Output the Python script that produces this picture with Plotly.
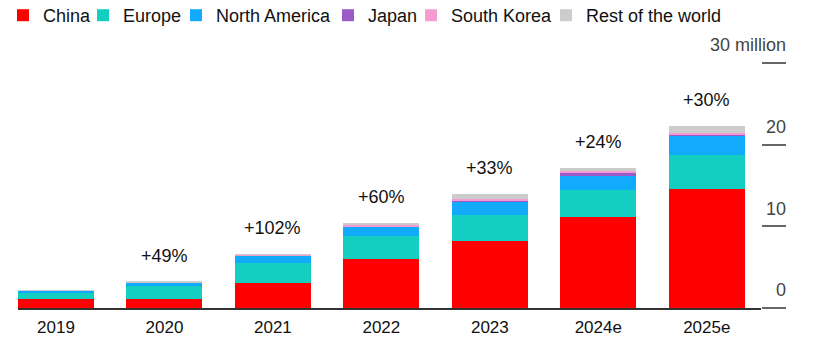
import plotly.graph_objects as go

years = ["2019", "2020", "2021", "2022", "2023", "2024e", "2025e"]
china = [1.06, 1.14, 3.10, 6.03, 8.16, 11.18, 14.53]
europe = [0.73, 1.59, 2.45, 2.78, 3.22, 3.26, 4.25]
north_america = [0.30, 0.40, 0.85, 1.14, 1.68, 1.84, 2.29]
japan = [0.02, 0.02, 0.03, 0.08, 0.10, 0.20, 0.12]
south_korea = [0.02, 0.03, 0.08, 0.13, 0.14, 0.29, 0.20]
rest = [0.01, 0.02, 0.05, 0.28, 0.61, 0.41, 0.94]
growth = ["", "+49%", "+102%", "+60%", "+33%", "+24%", "+30%"]
tick_vals = [0, 10, 20, 30]
tick_text = ["0", "10", "20", "30 million"]

series = [
    ("China", china, "#FF0000"),
    ("Europe", europe, "#14CEC2"),
    ("North America", north_america, "#12AAFC"),
    ("Japan", japan, "#9A5BC8"),
    ("South Korea", south_korea, "#F59BD2"),
    ("Rest of the world", rest, "#CCCCCC"),
]
# left edge (px) of each legend entry, one legend per series so spacing matches
legend_left_px = [3, 83, 176, 328, 411, 546]

W, H = 837, 342
MT, MB = 63, 34
PLOT_H = H - MT - MB
FONT = "Liberation Sans, Arial, sans-serif"
fig = go.Figure()
legend_layouts = {}
for i, ((name, vals, color), lx) in enumerate(zip(series, legend_left_px)):
    lname = "legend" if i == 0 else f"legend{i + 1}"
    fig.add_trace(go.Bar(x=years, y=vals, name=name, legend=lname,
                         marker=dict(color=color, line=dict(width=0))))
    legend_layouts[lname] = dict(
        orientation="h", xref="container", yref="paper", x=lx / W,
        y=(PLOT_H + MT + 3) / PLOT_H,
        xanchor="left", yanchor="top", font=dict(size=18, color="#111", family=FONT),
        bgcolor="rgba(0,0,0,0)", itemclick=False, itemdoubleclick=False)

totals = [sum(v) for v in zip(china, europe, north_america, japan, south_korea, rest)]
for i, (tot, g) in enumerate(zip(totals, growth)):
    if g:
        fig.add_annotation(x=i, y=tot, text=g, showarrow=False, yanchor="middle",
                           yshift=26, font=dict(size=18, color="#111", family=FONT))

fig.update_layout(
    width=W, height=H,
    barmode="stack", bargap=0.3,
    margin=dict(l=18, r=76, t=MT, b=MB, autoexpand=False),
    paper_bgcolor="white", plot_bgcolor="white",
    font=dict(family=FONT, size=18, color="#111"),
    showlegend=True,
    xaxis=dict(type="category", range=[-0.35, 6.5], showgrid=False, showline=True,
               linecolor="#333", linewidth=1.5, ticks="", tickfont=dict(size=17),
               ticklabelstandoff=3, zeroline=False, fixedrange=True),
    yaxis=dict(range=[0, 30], side="right", showgrid=False, showline=False, zeroline=False,
               tickvals=tick_vals, ticktext=tick_text, ticks="outside", ticklen=24,
               tickwidth=1.5, tickcolor="#666", ticklabelposition="inside",
               ticklabelstandoff=-28, ticklabelshift=-18, ticklabeloverflow="allow",
               tickfont=dict(size=18), fixedrange=True),
    **legend_layouts,
)

fig.write_html("out.html")
